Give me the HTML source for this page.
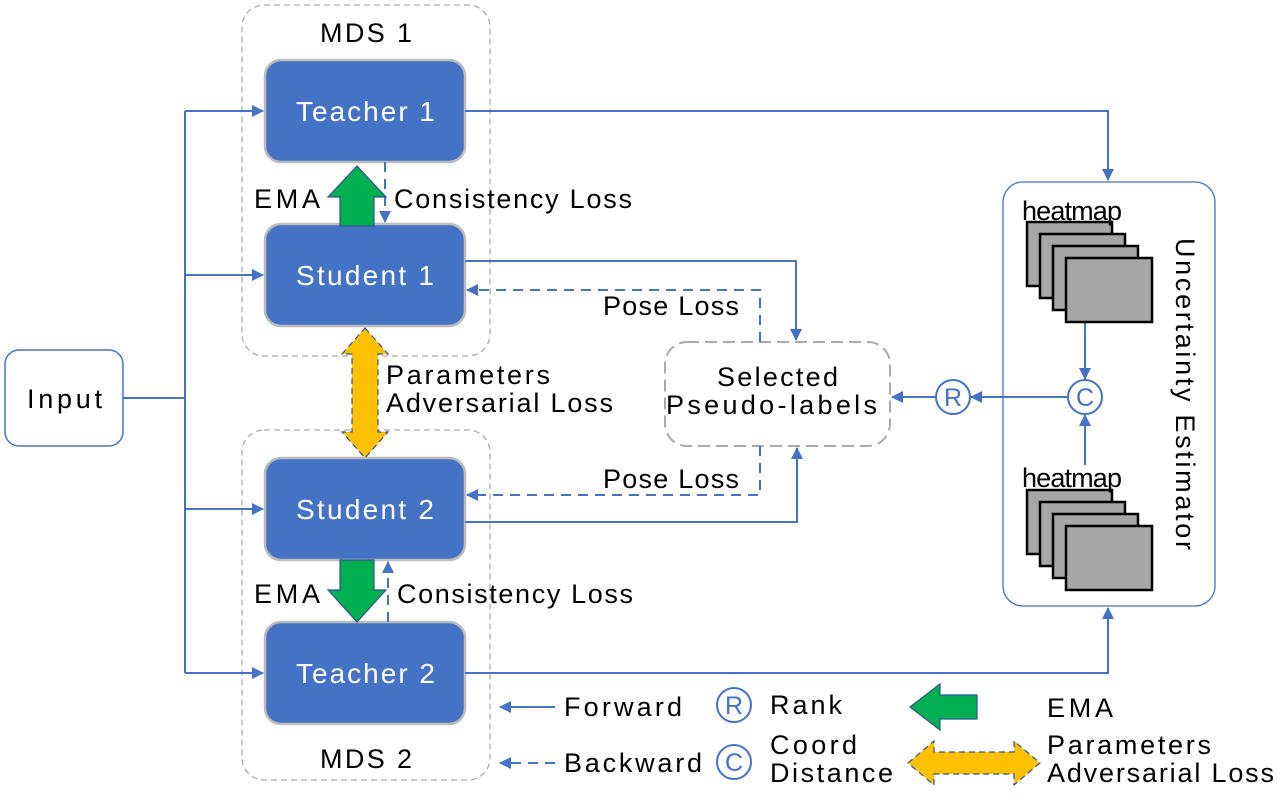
<!DOCTYPE html>
<html><head><style>body{margin:0;background:#fff}svg{display:block}text{font-family:"Liberation Sans",sans-serif}</style></head><body>
<svg width="1278" height="796" viewBox="0 0 1278 796" xmlns="http://www.w3.org/2000/svg">
<defs>
<marker id="a" markerWidth="12" markerHeight="12" refX="11" refY="6" orient="auto" markerUnits="userSpaceOnUse"><path d="M0,0 L12,6 L0,12 z" fill="#4472C4"/></marker>
</defs>
<g fill="none" stroke="#aaa" stroke-width="1.3" stroke-dasharray="6,4">
<rect x="242" y="5" width="248" height="351" rx="22"/>
<rect x="242" y="430" width="248" height="350" rx="22"/>
<rect x="665" y="342" width="225" height="104" rx="22" stroke-width="2" stroke-dasharray="12,6"/>
</g>
<rect x="5" y="350" width="118" height="96" rx="14" fill="#fff" stroke="#4472C4" stroke-width="1.5"/>
<text x="27" y="408" font-size="27" textLength="75">Input</text>
<rect x="1003" y="182" width="212" height="424" rx="20" fill="none" stroke="#4472C4" stroke-width="1.3"/>
<g fill="#4472C4" stroke="#bbb" stroke-width="2.5">
<rect x="265" y="60" width="200" height="102" rx="16"/>
<rect x="265" y="224" width="200" height="102" rx="16"/>
<rect x="265" y="458" width="200" height="102" rx="16"/>
<rect x="265" y="622" width="200" height="102" rx="16"/>
</g>
<g fill="#fff" font-size="28">
<text x="296" y="121" textLength="139">Teacher 1</text>
<text x="296" y="285" textLength="138">Student 1</text>
<text x="296" y="519" textLength="138">Student 2</text>
<text x="296" y="683" textLength="139">Teacher 2</text>
</g>
<g stroke="#4472C4" stroke-width="2" fill="none">
<path d="M123,398 H185"/>
<path d="M185,111 V673"/>
<path d="M185,111 H263" marker-end="url(#a)"/>
<path d="M185,275 H263" marker-end="url(#a)"/>
<path d="M185,509 H263" marker-end="url(#a)"/>
<path d="M185,673 H263" marker-end="url(#a)"/>
<path d="M465,111 H1108 V180" marker-end="url(#a)"/>
<path d="M465,673 H1108 V608" marker-end="url(#a)"/>
<path d="M465,261 H796 V340" marker-end="url(#a)"/>
<path d="M465,522 H797 V448" marker-end="url(#a)"/>
<path d="M1085,322 V379" marker-end="url(#a)"/>
<path d="M1085,465 V415" marker-end="url(#a)"/>
<path d="M1069,397 H971" marker-end="url(#a)"/>
<path d="M937,397 H892" marker-end="url(#a)"/>
<path d="M555,707 H500" marker-end="url(#a)"/>
</g>
<g stroke="#4472C4" stroke-width="2" fill="none" stroke-dasharray="10,7">
<path d="M760,342 V290 H467" marker-end="url(#a)"/>
<path d="M760,446 V495 H467" marker-end="url(#a)"/>
<path d="M385,162 V222" marker-end="url(#a)"/>
<path d="M388,622 V562" marker-end="url(#a)"/>
<path d="M555,763 H500" marker-end="url(#a)"/>
</g>
<g fill="#fff" stroke="#4472C4" stroke-width="2">
<circle cx="953" cy="397" r="17"/><circle cx="1085" cy="397" r="17"/>
<circle cx="734" cy="705" r="17"/><circle cx="734" cy="762" r="17"/>
</g>
<g fill="#4472C4" font-size="25" text-anchor="middle">
<text x="953" y="406">R</text><text x="1085" y="406">C</text>
<text x="734" y="714">R</text><text x="734" y="771">C</text>
</g>
<g fill="#A6A6A6" stroke="#000" stroke-width="2.5">
<rect x="1027" y="222" width="85" height="64"/><rect x="1040" y="234" width="85" height="64"/><rect x="1053" y="246" width="85" height="64"/><rect x="1066" y="258" width="86" height="64"/>
<rect x="1027" y="490" width="85" height="64"/><rect x="1040" y="502" width="85" height="64"/><rect x="1053" y="514" width="85" height="64"/><rect x="1066" y="526" width="86" height="64"/>
</g>
<g stroke="#2F528F" stroke-width="1.2">
<path d="M340,226 V197 H328 L357,166 L386,197 H374 V226 Z" fill="#00B050"/>
<path d="M340,560 V590 H328 L357,622 L386,590 H374 V560 Z" fill="#00B050"/>
<path d="M365,328 L388,354 H378 V432 H388 L365,458 L342,432 H352 V354 H342 Z" fill="#FFC000" stroke-dasharray="6,4"/>
<path d="M910,707 L940,684 V695 H977 V719 H940 V730 Z" fill="#00B050"/>
<path d="M908,763 L934,741 V752 H1014 V741 L1040,763 L1014,785 V774 H934 V785 Z" fill="#FFC000" stroke-dasharray="6,4"/>
</g>
<g font-size="27" fill="#000">
<text x="320" y="42" textLength="92">MDS 1</text>
<text x="320" y="768" textLength="92">MDS 2</text>
<text x="254" y="208" textLength="66">EMA</text>
<text x="394" y="208" textLength="238">Consistency Loss</text>
<text x="254" y="603" textLength="66">EMA</text>
<text x="397" y="603" textLength="236">Consistency Loss</text>
<text x="386" y="384" textLength="164">Parameters</text>
<text x="386" y="412" textLength="227">Adversarial Loss</text>
<text x="603" y="315" textLength="136">Pose Loss</text>
<text x="603" y="488" textLength="136">Pose Loss</text>
<text x="717" y="386" textLength="121">Selected</text>
<text x="666" y="414" textLength="211">Pseudo-labels</text>
<text x="1022" y="220" textLength="100">heatmap</text>
<text x="1022" y="487" textLength="100">heatmap</text>
<text x="564" y="716" textLength="118">Forward</text>
<text x="564" y="772" textLength="138">Backward</text>
<text x="770" y="714" textLength="72">Rank</text>
<text x="770" y="754" textLength="87">Coord</text>
<text x="770" y="782" textLength="123">Distance</text>
<text x="1047" y="717" textLength="66">EMA</text>
<text x="1047" y="754" textLength="164">Parameters</text>
<text x="1047" y="782" textLength="227">Adversarial Loss</text>
<text transform="translate(1176,238) rotate(90)" textLength="312">Uncertainty Estimator</text>
</g>
</svg>
</body></html>
